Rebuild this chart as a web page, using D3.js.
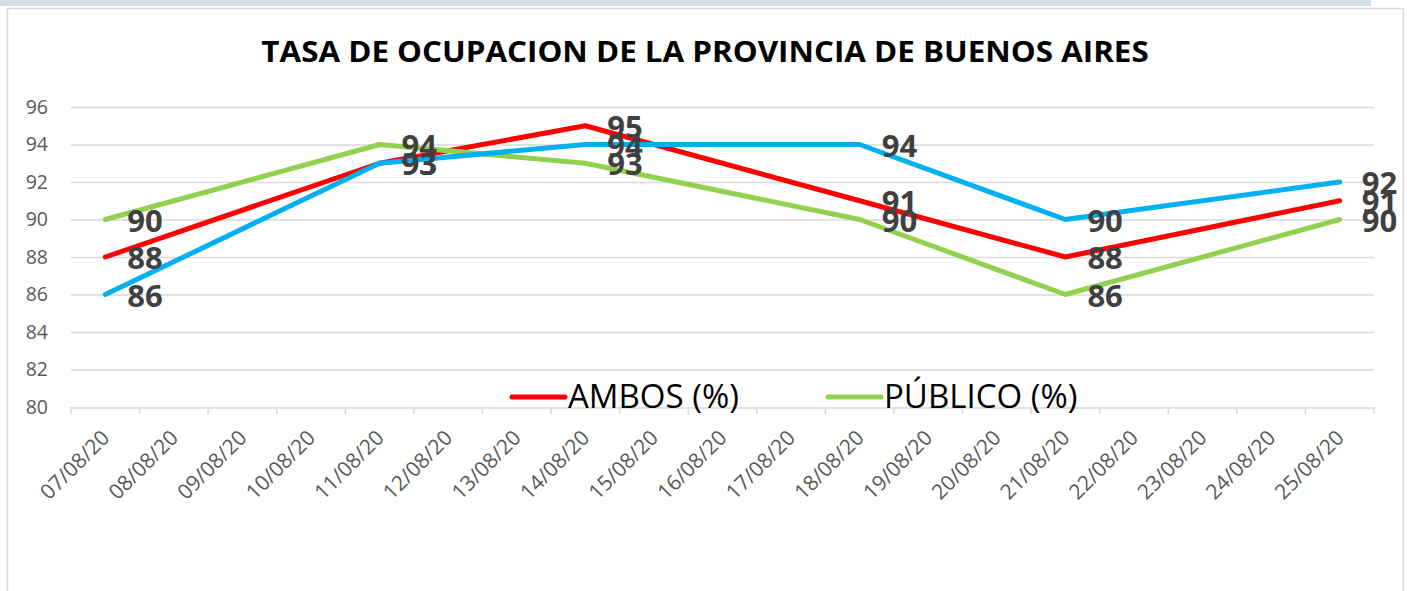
<!DOCTYPE html>
<html><head><meta charset="utf-8">
<script src="https://cdn.jsdelivr.net/npm/d3@7"></script>
<style>
html,body{margin:0;padding:0;background:#fff;}
svg{display:block;font-family:"Open Sans", sans-serif;}
</style></head>
<body>
<svg id="c" width="1407" height="591"></svg>
<script>
const dates = ["07/08/20","08/08/20","09/08/20","10/08/20","11/08/20","12/08/20","13/08/20","14/08/20","15/08/20","16/08/20","17/08/20","18/08/20","19/08/20","20/08/20","21/08/20","22/08/20","23/08/20","24/08/20","25/08/20"];
const ambos   = [88,null,null,null,93,null,null,95,null,null,null,91,null,null,88,null,null,null,91];
const publico = [90,null,null,null,94,null,null,93,null,null,null,90,null,null,86,null,null,null,90];
const privado = [86,null,null,null,93,null,null,94,null,null,null,94,null,null,90,null,null,null,92];
const yTicks = [80,82,84,86,88,90,92,94,96];
const title = "TASA DE OCUPACION DE LA PROVINCIA DE BUENOS AIRES";

const series = [
  {name:"AMBOS (%)", values:ambos, color:"#ff0000", legend:true},
  {name:"PÚBLICO (%)", values:publico, color:"#92d050", legend:true},
  {name:"PRIVADO (%)", values:privado, color:"#00b0f0", legend:false}
];

const FONT = '"Open Sans", sans-serif';
const svg = d3.select("#c");
svg.append("rect").attr("x",0).attr("y",0).attr("width",1371).attr("height",6).attr("fill","#d0dfe4");
svg.append("path").attr("d","M7.5,591 V8.5 H1403.5 V591").attr("fill","none").attr("stroke","#d9d9d9").attr("stroke-width",1.5);

const x = d3.scaleBand().domain(dates).range([71,1374]);
const y = d3.scaleLinear().domain([80,96]).range([407,107]);

svg.append("g").selectAll("line").data(yTicks.filter(t=>t>80)).join("line")
  .attr("x1",71).attr("x2",1374).attr("y1",d=>y(d)+0.5).attr("y2",d=>y(d)+0.5)
  .attr("stroke","#d9d9d9").attr("stroke-width",1.5);

const ya = svg.append("g").attr("transform","translate(48,0)")
  .call(d3.axisLeft(y).tickValues(yTicks).tickSize(0).tickPadding(0));
ya.select(".domain").remove();
ya.selectAll("text").attr("font-size",19.5).attr("fill","#595959").attr("font-family",FONT);

const xa = svg.append("g").attr("transform","translate(0,407.5)")
  .call(d3.axisBottom(x).tickSize(0));
xa.select(".domain").attr("stroke","#d9d9d9").attr("stroke-width",1.5);
xa.selectAll(".tick text").attr("font-size",21).attr("fill","#595959")
  .attr("font-family",FONT)
  .attr("text-anchor","end").attr("transform","translate(-7,19) rotate(-45)").attr("dy","0.7em");
const bounds = dates.map(d=>x(d)).concat([x(dates[dates.length-1])+x.bandwidth()]);
svg.append("g").selectAll("line").data(bounds).join("line")
  .attr("x1",d=>d).attr("x2",d=>d).attr("y1",407).attr("y2",414)
  .attr("stroke","#d9d9d9").attr("stroke-width",1.5);

const cx = i => x(dates[i]) + x.bandwidth()/2;
const line = d3.line().x(d=>cx(d.i)).y(d=>y(d.v));
series.forEach(s=>{
  const pts = s.values.map((v,i)=>({v,i})).filter(d=>d.v!==null);
  svg.append("path").datum(pts).attr("d",line).attr("fill","none")
    .attr("stroke",s.color).attr("stroke-width",5).attr("stroke-linejoin","round").attr("stroke-linecap","round");
});
series.forEach(s=>{
  const pts = s.values.map((v,i)=>({v,i})).filter(d=>d.v!==null);
  svg.append("g").selectAll("text").data(pts).join("text")
    .attr("x",d=>cx(d.i)+22).attr("y",d=>y(d.v)+12)
    .attr("font-size",31).attr("font-weight","bold").attr("fill","#404040")
    .text(d=>d.v);
});

svg.append("text").attr("text-anchor","middle")
  .attr("transform","translate(705,62) scale(1.12,1)")
  .attr("font-size",28).attr("font-weight","bold").attr("fill","#000").text(title);

const legendItems = series.filter(s=>s.legend);
const lx = [510, 826];
legendItems.forEach((s,k)=>{
  svg.append("line").attr("x1",lx[k]+2).attr("x2",lx[k]+55).attr("y1",397).attr("y2",397)
    .attr("stroke",s.color).attr("stroke-width",5).attr("stroke-linecap","round");
  svg.append("text").attr("x",lx[k]+58).attr("y",408).attr("font-size",33).attr("fill","#000").text(s.name);
});
</script>
</body></html>
